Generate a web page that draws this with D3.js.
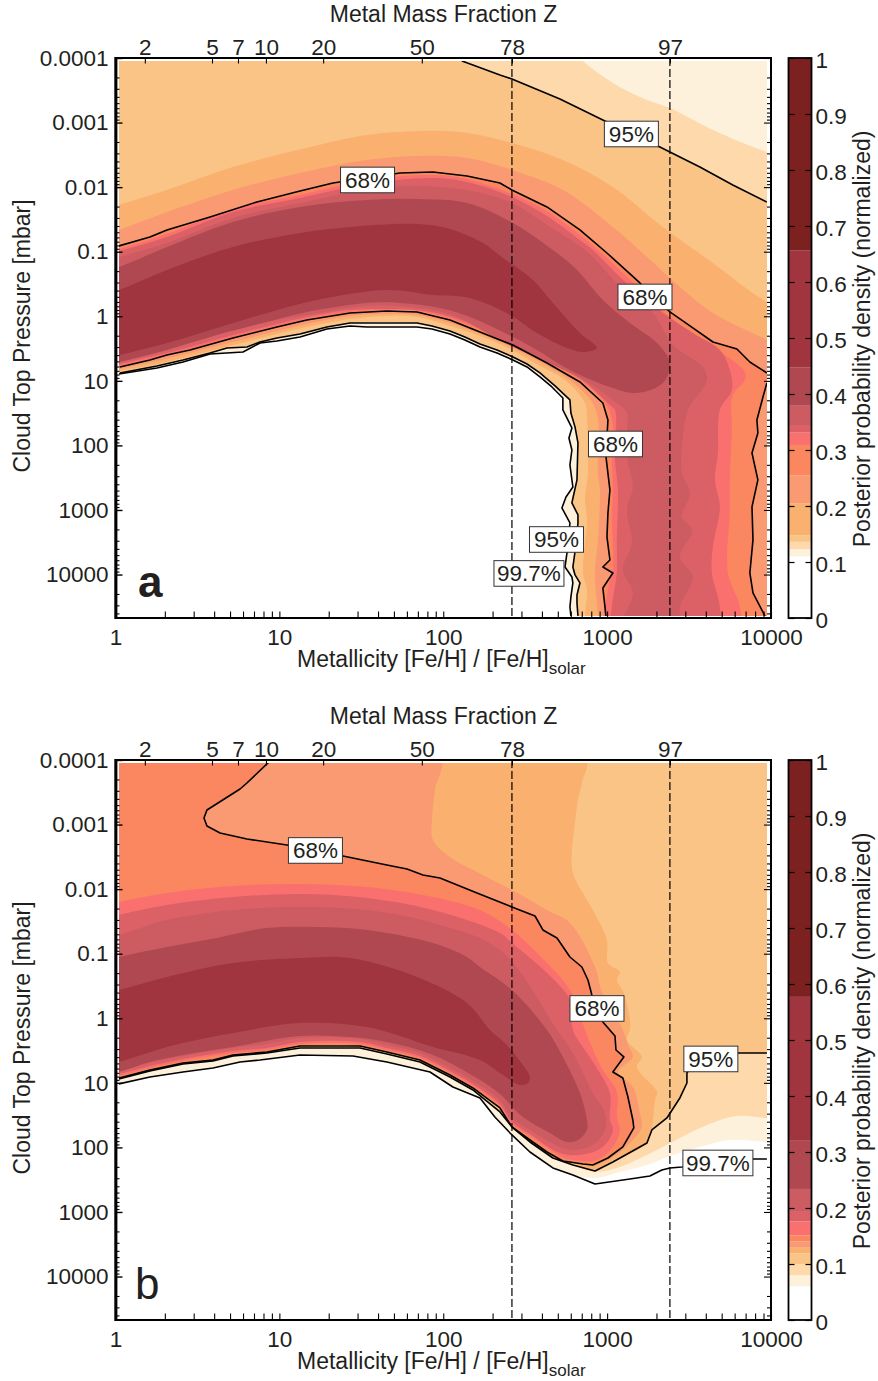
<!DOCTYPE html>
<html><head><meta charset="utf-8">
<script src="https://cdn.jsdelivr.net/npm/d3@7/dist/d3.min.js"></script>
<style>body{margin:0;background:#fff}svg{display:block}text{font-family:"Liberation Sans",Arial,sans-serif;fill:#231f20}</style>
</head><body><svg id="c" width="878" height="1381"></svg>
<script>
// All contour data are [log10 metallicity, log10 pressure in mbar]
const E_L=-0.2,E_R=4.2,E_T=-4.3,E_B=5;
const bandColors=["#ffffff","#fdf1db","#fdd9ac","#fbc487","#fab06e","#f99a72","#fa875f","#f9706e","#db6167","#cc5c62","#b04851","#a03540","#7d2020"];
const levelsA=[0,.11,.123,.136,.148,.205,.255,.309,.331,.343,.379,.447,.656,1];
const levelsB=[0,.06,.08,.1,.119,.129,.14,.151,.176,.193,.234,.32,.577,1];
const barTicks=[0,.1,.2,.3,.4,.5,.6,.7,.8,.9,1];
const metalFractionLabels=[2,5,7,10,20,50,78,97];
const metalFractionAt=[1.51,3.88,5.59,8.28,18.5,74,262.5,2416];
const dashedAt=[262.5,2416];
const xMajor=[1,10,100,1000,10000];
const yMajor=[1e-4,1e-3,1e-2,1e-1,1,10,100,1000,10000];
const yLabels=["0.0001","0.001","0.01","0.1","1","10","100","1000","10000"];

// ---- panel a contour lines
const a997=[[.021,.894],[.253,.801],[.412,.708],[.577,.584],[.778,.553],[.882,.414],[.985,.383],[1.126,.321],[1.29,.197],[1.431,.15],[1.534,.166],[1.84,.166],[1.931,.197],[2.041,.274],[2.132,.367],[2.224,.475],[2.328,.568],[2.425,.677],[2.511,.785],[2.59,.94],[2.663,1.095],[2.73,1.265],[2.73,1.451],[2.785,1.73],[2.767,1.885],[2.785,2.071],[2.773,2.303],[2.791,2.644],[2.749,2.799],[2.724,2.969],[2.773,3.201],[2.755,3.666],[2.743,3.883],[2.785,4.037],[2.791,4.13],[2.779,4.347],[2.773,4.502],[2.779,4.641]];
const a95Low=[[.027,.878],[.253,.77],[.412,.677],[.577,.568],[.68,.491],[.802,.475],[.882,.398],[.985,.336],[1.126,.274],[1.29,.166],[1.431,.104],[1.84,.104],[1.931,.15],[2.041,.228],[2.132,.321],[2.224,.429],[2.328,.522],[2.425,.63],[2.511,.739],[2.59,.878],[2.682,1.079],[2.773,1.296],[2.779,1.498],[2.804,1.714],[2.822,1.962],[2.816,2.535],[2.785,2.891],[2.822,3.077],[2.822,3.201],[2.81,3.542],[2.791,3.883],[2.804,4.006],[2.834,4.13],[2.816,4.316],[2.816,4.44],[2.822,4.641]];
const a95Up=[[2.114,-3.954],[2.346,-3.737],[2.419,-3.675],[2.712,-3.365],[2.974,-3.04],[3.322,-2.622],[3.383,-2.545],[3.566,-2.312],[3.767,-2.033],[3.975,-1.77]];
const a68Up=[[.021,-1.089],[.21,-1.228],[.314,-1.337],[.577,-1.538],[.863,-1.77],[1.126,-1.941],[1.327,-2.064],[1.736,-2.219],[1.937,-2.235],[2.145,-2.173],[2.346,-2.064],[2.419,-1.956],[2.633,-1.693],[2.834,-1.337],[2.999,-.98],[3.2,-.516],[3.383,-.067],[3.523,.181],[3.646,.398],[3.792,.506],[3.871,.708],[3.975,.878]];
const a68Right=[[3.975,1.033],[3.951,1.25],[3.914,1.606],[3.92,1.807],[3.884,2.117],[3.92,2.535],[3.884,2.953],[3.89,3.464],[3.871,3.976],[3.89,4.285],[3.963,4.641]];
const a68Low=[[.027,.785],[.21,.677],[.314,.599],[.455,.522],[.717,.336],[.985,.166],[1.168,.057],[1.431,-.051],[1.656,-.082],[1.84,-.067],[2.041,.057],[2.346,.367],[2.425,.444],[2.633,.723],[2.834,1.017],[2.974,1.343],[3.005,1.606],[2.999,1.869],[2.993,2.179],[3.017,2.69],[3.005,3.046],[2.999,3.418],[3.017,3.774],[2.974,3.883],[3.035,3.976],[2.974,4.208],[2.993,4.641]];
// ---- panel a band edges
const aLightEdge=[[2.804,-4.05],[3.035,-3.613],[3.243,-3.35],[3.383,-3.226],[3.646,-2.885],[3.975,-2.545]];
const aOrangeUp=[[.021,-1.724],[.314,-1.956],[.717,-2.312],[1.187,-2.622],[1.534,-2.808],[1.858,-2.87],[2.145,-2.839],[2.419,-2.684],[2.73,-2.421],[3.035,-2.002],[3.34,-1.383],[3.646,-.825],[3.975,-.221]];
const aOrangeLow=[[.027,.847],[.253,.739],[.455,.615],[.717,.444],[.985,.274],[1.168,.166],[1.431,.042],[1.656,-.005],[1.84,.011],[2.041,.15],[2.346,.429],[2.59,.77],[2.743,.987],[2.865,1.343],[2.877,1.56],[2.883,2.427],[2.865,2.845],[2.877,3.155],[2.853,3.976],[2.877,4.239],[2.865,4.641]];
const aSalmonUp=[[.021,-1.337],[.314,-1.615],[.717,-1.956],[1.126,-2.219],[1.534,-2.421],[1.84,-2.483],[2.145,-2.452],[2.419,-2.266],[2.73,-1.956],[3.035,-1.383],[3.243,-.918],[3.444,-.454],[3.646,-.051],[3.975,.367]];
const aSalmonLow=[[.027,.816],[.253,.692],[.455,.568],[.717,.398],[.985,.228],[1.168,.119],[1.431,-.005],[1.656,-.036],[1.84,-.02],[2.041,.104],[2.346,.398],[2.59,.708],[2.804,1.048],[2.932,1.451],[2.944,2.427],[2.956,2.69],[2.944,3.464],[2.926,3.976],[2.944,4.641]];
const aCoral=[[.021,-1.042],[.314,-1.275],[.717,-1.662],[1.126,-1.879],[1.534,-2.111],[1.937,-2.188],[2.145,-2.126],[2.419,-1.894],[2.633,-1.631],[2.834,-1.259],[2.944,-1.027],[3.096,-.671],[3.383,.011],[3.584,.367],[3.841,.863],[3.841,.987],[3.767,1.219],[3.761,1.761],[3.749,2.535],[3.749,3],[3.737,3.976],[3.81,4.502],[3.798,5],[3.005,5],[3.005,4.239],[3.035,3.929],[3.029,3.108],[3.035,2.69],[3.029,2.225],[3.035,1.683],[2.993,1.358],[2.846,1.002],[2.645,.708],[2.358,.352],[2.053,.042],[1.84,-.082],[1.656,-.098],[1.431,-.067],[1.168,.042],[.985,.15],[.717,.321],[.455,.506],[.21,.661],[.027,.77]];
const aRose=[[.021,-1.011],[.314,-1.228],[.717,-1.615],[1.126,-1.832],[1.534,-2.049],[1.937,-2.142],[2.145,-2.08],[2.419,-1.848],[2.633,-1.553],[2.834,-1.182],[2.913,-1.027],[3.078,-.609],[3.34,-.051],[3.523,.259],[3.688,.522],[3.749,.832],[3.761,1.141],[3.688,1.451],[3.676,2.117],[3.658,2.535],[3.688,2.953],[3.645,3.573],[3.639,3.976],[3.688,4.502],[3.676,5],[3.029,5],[3.029,4.502],[3.059,3.976],[3.059,3.464],[3.066,2.69],[3.048,2.225],[3.048,1.451],[3.017,1.374],[2.834,.956],[2.645,.677],[2.358,.321],[2.053,.011],[1.84,-.098],[1.656,-.113],[1.431,-.098],[1.168,.011],[.985,.119],[.717,.29],[.455,.475],[.21,.63],[.027,.739]];
const aMauve=[[.021,-.918],[.314,-1.135],[.717,-1.522],[1.126,-1.755],[1.534,-1.956],[1.84,-2.018],[2.145,-1.956],[2.419,-1.755],[2.633,-1.414],[2.865,-1.027],[3.06,-.516],[3.28,-.051],[3.402,.444],[3.584,.785],[3.609,.987],[3.493,1.451],[3.462,1.869],[3.456,2.427],[3.505,2.737],[3.456,3.108],[3.517,3.31],[3.444,3.728],[3.523,4.037],[3.444,4.502],[3.444,5],[3.06,5],[3.157,4.285],[3.096,3.929],[3.151,3.511],[3.121,3],[3.157,2.644],[3.121,2.179],[3.121,1.761],[3.121,1.498],[3.06,1.343],[2.877,1.017],[2.669,.754],[2.376,.414],[2.053,-.02],[1.84,-.129],[1.534,-.16],[1.168,-.02],[.924,.088],[.619,.274],[.314,.46],[.027,.692]];
const aBrick=[[.021,-.764],[.314,-1.073],[.717,-1.46],[1.126,-1.693],[1.534,-1.801],[1.84,-1.817],[2.145,-1.755],[2.425,-1.445],[2.669,-1.027],[2.816,-.717],[2.974,-.252],[3.139,.104],[3.304,.414],[3.383,.723],[3.34,1.033],[3.182,1.188],[3.017,1.095],[2.773,.832],[2.572,.522],[2.425,.321],[2.163,.011],[1.98,-.129],[1.736,-.206],[1.534,-.206],[1.168,-.067],[.924,.088],[.619,.29],[.314,.522],[.027,.708]];
const aWine=[[.021,-.407],[.314,-.717],[.717,-1.073],[1.126,-1.29],[1.431,-1.383],[1.84,-1.429],[2.041,-1.352],[2.242,-1.135],[2.364,-.903],[2.547,-.562],[2.669,-.206],[2.834,.259],[2.938,.491],[2.853,.553],[2.755,.491],[2.572,.259],[2.407,-.02],[2.163,-.283],[1.937,-.33],[1.656,-.407],[1.229,-.252],[.924,-.051],[.619,.181],[.314,.414],[.027,.599]];
// ---- panel b contour lines
const b68Up=[[.943,-3.985],[.802,-3.644],[.76,-3.551],[.558,-3.226],[.54,-3.102],[.558,-2.978],[.638,-2.87],[.802,-2.777],[1.046,-2.684],[1.388,-2.514],[1.656,-2.374],[1.779,-2.312],[1.876,-2.219],[1.98,-2.173],[2.206,-1.941],[2.419,-1.724],[2.56,-1.584],[2.608,-1.368],[2.694,-1.244],[2.773,-.949],[2.846,-.794],[2.883,-.593],[2.907,-.361],[2.974,.057],[3.048,.274],[3.054,.491],[3.102,.599],[3.035,.832],[3.096,.925],[3.127,1.219],[3.157,1.575],[3.163,1.699],[3.096,1.993],[3.005,2.164],[2.913,2.272]];
const b68Low=[[2.853,2.256],[2.73,2.21],[2.633,2.071],[2.529,1.885],[2.419,1.683],[2.346,1.389],[2.181,1.079],[2.041,.878],[1.858,.646],[1.656,.522],[1.492,.429],[1.126,.429],[.924,.522],[.717,.568],[.595,.646],[.412,.692],[.21,.801],[.021,.925]];
const b95Left=[[.021,.94],[.21,.816],[.412,.708],[.595,.661],[.717,.584],[.924,.537],[1.126,.46],[1.492,.46],[1.656,.553],[1.858,.677],[2.041,.909],[2.181,1.11],[2.346,1.451],[2.425,1.699],[2.529,1.916],[2.669,2.164],[2.791,2.272]];
const b95Right=[[2.926,2.365],[3.035,2.225],[3.243,1.931],[3.273,1.73],[3.365,1.544],[3.444,1.234],[3.487,1.002],[3.487,.847],[3.536,.646],[3.597,.537],[3.798,.537],[3.975,.537]];
const b997Left=[[.021,1.017],[.21,.909],[.412,.832],[.595,.77],[.76,.677],[.882,.646],[1.126,.568],[1.449,.584],[1.656,.677],[1.919,.832],[2.059,1.064],[2.224,1.234],[2.315,1.529],[2.419,1.807],[2.529,2.071],[2.669,2.318],[2.791,2.427]];
const b997Right=[[2.926,2.566],[3.139,2.489],[3.261,2.442],[3.334,2.349],[3.383,2.318],[3.456,2.303],[3.89,2.179],[3.975,2.179]];
// ---- panel b band edges
const bCreamEdge=[[2.926,2.473],[3.078,2.38],[3.243,2.272],[3.383,2.133],[3.609,1.962],[3.749,1.885],[3.975,1.916]];
const bLightEdge=[[2.926,2.38],[3.078,2.303],[3.243,2.117],[3.444,1.854],[3.609,1.652],[3.792,1.513],[3.975,1.544]];
const bOrangeEdge=[[2.865,-4.078],[2.846,-3.644],[2.822,-3.381],[2.804,-3.025],[2.785,-2.606],[2.791,-2.25],[2.852,-1.941],[2.913,-1.677],[2.999,-1.213],[3.005,-.856],[3.078,-.717],[3.06,-.593],[3.102,-.392],[3.139,.026],[3.139,.181],[3.121,.336],[3.212,.599],[3.182,.754],[3.304,1.141],[3.292,1.265],[3.273,1.683],[3.243,1.9],[3.035,2.195],[2.926,2.334],[2.791,2.241],[2.669,2.133],[2.529,1.885],[2.425,1.683]];
const bSalmonEdge=[[1.98,-4.078],[1.949,-3.536],[1.931,-3.071],[1.937,-2.761],[2.041,-2.498],[2.181,-2.297],[2.419,-1.987],[2.633,-1.677],[2.773,-1.476],[2.926,-.794],[2.968,-.407],[3.096,.181],[3.127,.414],[3.157,.599],[3.066,.832],[3.157,1.064],[3.2,1.467],[3.212,1.683],[3.139,1.931],[3.035,2.148],[2.913,2.287]];
const bCoral=[[.021,-1.801],[.314,-1.941],[.717,-2.049],[1.126,-2.08],[1.534,-2.033],[1.937,-1.879],[2.224,-1.677],[2.419,-1.368],[2.633,-.856],[2.773,-.438],[2.865,.181],[2.907,.444],[2.974,.801],[3.06,1.141],[3.06,1.529],[3.078,1.73],[3.035,1.993],[2.938,2.195],[2.791,2.195],[2.724,2.148],[2.529,1.823],[2.419,1.637],[2.346,1.358],[2.181,1.048],[2.041,.847],[1.858,.615],[1.656,.491],[1.492,.398],[1.126,.398],[.924,.491],[.717,.537],[.412,.661],[.21,.77],[.021,.894]];
const bRose=[[.021,-1.6],[.314,-1.755],[.717,-1.879],[1.126,-1.925],[1.534,-1.863],[1.937,-1.677],[2.346,-1.321],[2.419,-1.166],[2.633,-.702],[2.773,-.283],[2.791,.181],[2.877,.537],[2.956,.847],[3.017,1.157],[3.017,1.575],[3.035,1.73],[2.974,1.993],[2.834,2.117],[2.712,2.086],[2.529,1.792],[2.419,1.606],[2.346,1.327],[2.181,1.017],[2.041,.816],[1.858,.584],[1.656,.46],[1.492,.367],[1.126,.367],[.924,.46],[.717,.506],[.412,.63],[.21,.739],[.021,.863]];
const bMauve=[[.021,-1.29],[.314,-1.522],[.717,-1.677],[1.126,-1.724],[1.534,-1.677],[1.937,-1.476],[2.346,-1.058],[2.694,.181],[2.791,.537],[2.913,1.157],[2.987,1.467],[2.987,1.73],[2.913,1.962],[2.791,2.04],[2.712,1.993],[2.529,1.73],[2.419,1.544],[2.346,1.265],[2.181,.971],[2.041,.77],[1.858,.537],[1.656,.414],[1.492,.321],[1.126,.305],[.924,.398],[.717,.46],[.412,.584],[.21,.692],[.021,.816]];
const bBrick=[[.021,-.949],[.314,-1.104],[.619,-1.244],[.924,-1.398],[1.229,-1.414],[1.534,-1.368],[1.937,-1.166],[2.145,-.949],[2.224,-.794],[2.419,-.438],[2.633,.181],[2.73,.599],[2.834,1.157],[2.877,1.575],[2.877,1.73],[2.822,1.885],[2.755,1.916],[2.651,1.776],[2.486,1.529],[2.346,1.172],[2.224,.956],[1.937,.568],[1.656,.367],[1.431,.29],[1.126,.274],[.717,.444],[.412,.568],[.21,.677],[.021,.832]];
const bWine=[[.021,-.438],[.314,-.64],[.717,-.856],[1.126,-.934],[1.431,-.934],[1.84,-.64],[2.145,-.237],[2.285,.181],[2.376,.383],[2.449,.599],[2.529,.909],[2.517,1.002],[2.468,1.033],[2.346,.847],[2.224,.646],[1.937,.444],[1.534,.135],[1.126,.073],[.717,.228],[.314,.444],[.021,.677]];
// ---- contour labels [text, log10 metallicity, log10 pressure]
const labelsA=[["68%",1.538,-2.111],["95%",3.148,-2.823],["68%",3.231,-.299],["68%",3.051,1.978],["95%",2.691,3.457],["99.7%",2.523,3.983]];
const labelsB=[["68%",1.22,-2.599],["68%",2.938,-.152],["95%",3.633,.63],["99.7%",3.676,2.241]];

const rev=a=>a.slice().reverse();
const layersA=[
 [[E_L,E_T],[E_R,E_T],[E_R,E_B],[2.779,E_B],...rev(a997),[E_L,.894]],
 [[2.7,E_T],...aLightEdge,[E_R,-2.4],[E_R,E_B],[2.822,E_B],...rev(a95Low),[E_L,.878],[E_L,E_T]],
 [[E_L,E_T],[2.0,E_T],...a95Up,[E_R,-1.6],[E_R,E_B],[2.822,E_B],...rev(a95Low),[E_L,.878]],
 [[E_L,-1.55],...aOrangeUp,[E_R,0],[E_R,E_B],[2.865,E_B],...rev(aOrangeLow),[E_L,.98]],
 [[E_L,-1.15],...aSalmonUp,[E_R,.65],[E_R,E_B],[2.944,E_B],...rev(aSalmonLow),[E_L,.95]],
 [[E_L,-.95],...a68Up,...a68Right,[3.963,E_B],[2.993,E_B],...rev(a68Low),[E_L,.92]],
 [[E_L,-.9],...aCoral,[E_L,.9]],
 [[E_L,-.87],...aRose,[E_L,.87]],
 [[E_L,-.77],...aMauve,[E_L,.82]],
 [[E_L,-.6],...aBrick,[E_L,.84]],
 [[E_L,-.22],...aWine,[E_L,.73]]
];
const layersB=[
 [[E_L,E_T],[E_R,E_T],[E_R,1.916],...rev(bCreamEdge),...rev(b997Left),[E_L,1.15]],
 [[E_L,E_T],[E_R,E_T],[E_R,1.544],...rev(bLightEdge),...rev(b95Left),[E_L,1.07]],
 [[E_L,E_T],[E_R,E_T],[E_R,.537],...rev(b95Right),...rev(b95Left),[E_L,1.07]],
 [[E_L,E_T],...bOrangeEdge,...b68Low.slice(5),[E_L,1.05]],
 [[E_L,E_T],...bSalmonEdge,...b68Low,[E_L,1.05]],
 [[E_L,E_T],[1.15,E_T],...b68Up,...b68Low,[E_L,1.05]],
 [[E_L,-1.65],...bCoral,[E_L,1.02]],
 [[E_L,-1.45],...bRose,[E_L,.99]],
 [[E_L,-1.15],...bMauve,[E_L,.94]],
 [[E_L,-.8],...bBrick,[E_L,.96]],
 [[E_L,-.3],...bWine,[E_L,.81]]
];

const svg=d3.select("#c");
const FS=23,TS=22.5;
const x=d3.scaleLog().domain([1,10000]).range([115.5,771]);
const y=d3.scaleLog().domain([1e-4,4.71e4]).range([58,618]);
const yBar=d3.scaleLinear().domain([0,1]).range([618,58]);
const px=p=>[x(Math.pow(10,p[0])),y(Math.pow(10,p[1]))];
const area=d3.line().curve(d3.curveCatmullRomClosed.alpha(.5));
const poly=d3.line();

function tickStyle(g,w){g.select(".domain").remove();g.selectAll("line").attr("stroke","#000").attr("stroke-width",w);g.selectAll("text").attr("font-size",TS).attr("fill","#231f20");}

function panel(id,dy,layers,lines,levels,labels,letter,bold){
 const g=svg.append("g").attr("transform",`translate(0,${dy})`);
 g.append("clipPath").attr("id",id).append("rect").attr("x",119).attr("y",61).attr("width",648).attr("height",555);
 const plot=g.append("g").attr("clip-path",`url(#${id})`);
 plot.selectAll("path.band").data(layers).join("path").attr("class","band")
  .attr("d",d=>area(d.map(px))).attr("fill",(d,i)=>bandColors[i+1]);
 plot.selectAll("path.line").data(lines).join("path").attr("class","line")
  .attr("d",d=>poly(d.map(px))).attr("fill","none").attr("stroke","#000").attr("stroke-width",1.6).attr("stroke-linejoin","round");
 // dashed reference lines
 g.selectAll("line.dash").data(dashedAt).join("line").attr("class","dash")
  .attr("x1",d=>x(d)).attr("x2",d=>x(d)).attr("y1",58).attr("y2",618)
  .attr("stroke","#000").attr("stroke-width",1.2).attr("stroke-dasharray","8 3");
 // contour labels
 const lab=g.selectAll("g.lab").data(labels).join("g").attr("class","lab")
  .attr("transform",d=>{const p=px([d[1],d[2]]);return `translate(${p[0]},${p[1]})`;});
 lab.append("rect").attr("x",d=>d[0].length>3?-35:-27).attr("width",d=>d[0].length>3?70:54).attr("y",-12.8).attr("height",25.6)
  .attr("fill","#fff").attr("stroke","#333").attr("stroke-width",1);
 lab.append("text").attr("text-anchor","middle").attr("y",8).attr("font-size",TS).text(d=>d[0]);
 // axes
 const allX=x.ticks(),allY=y.ticks();
 g.append("g").attr("transform","translate(0,618)")
  .call(d3.axisBottom(x).tickValues(allX).tickSizeInner(-6.5).tickSizeOuter(0).tickPadding(11)
   .tickFormat(d=>xMajor.includes(d)?String(d):"")).call(s=>tickStyle(s,1.1));
 g.append("g").attr("transform","translate(115.5,0)")
  .call(d3.axisLeft(y).tickValues(allY.filter(d=>!yMajor.some(m=>Math.abs(m/d-1)<1e-6))).tickSizeInner(-4).tickSizeOuter(0).tickFormat(""))
  .call(s=>tickStyle(s,1.1));
 g.append("g").attr("transform","translate(115.5,0)")
  .call(d3.axisLeft(y).tickValues(yMajor).tickSizeInner(-7).tickSizeOuter(0).tickPadding(7).tickFormat((d,i)=>yLabels[i]))
  .call(s=>tickStyle(s,1.4));
 g.append("g").attr("transform","translate(771,0)")
  .call(d3.axisRight(y).tickValues(allY.filter(d=>!yMajor.some(m=>Math.abs(m/d-1)<1e-6))).tickSizeInner(-4).tickSizeOuter(0).tickFormat(""))
  .call(s=>tickStyle(s,1.1));
 g.append("g").attr("transform","translate(771,0)")
  .call(d3.axisRight(y).tickValues(yMajor).tickSizeInner(-7).tickSizeOuter(0).tickFormat(""))
  .call(s=>tickStyle(s,1.1));
 g.append("g").attr("transform","translate(0,58)")
  .call(d3.axisTop(x).tickValues(metalFractionAt).tickSizeInner(-5.5).tickSizeOuter(0).tickPadding(3.5)
   .tickFormat((d,i)=>metalFractionLabels[i])).call(s=>tickStyle(s,1.1));
 // frame
 g.append("rect").attr("x",115.5).attr("y",58).attr("width",655.5).attr("height",560).attr("fill","none").attr("stroke","#000").attr("stroke-width",2);
 g.append("line").attr("x1",116).attr("x2",116).attr("y1",57).attr("y2",619).attr("stroke","#000").attr("stroke-width",2.8);
 // titles
 g.append("text").attr("x",443.5).attr("y",21.5).attr("text-anchor","middle").attr("font-size",FS).text("Metal Mass Fraction Z");
 const t=g.append("text").attr("x",297).attr("y",667).attr("font-size",FS);
 t.append("tspan").text("Metallicity [Fe/H] / [Fe/H]");
 t.append("tspan").attr("dy",7).attr("font-size",17).text("solar");
 g.append("text").attr("transform","translate(30,336) rotate(-90)").attr("text-anchor","middle").attr("font-size",FS).text("Cloud Top Pressure [mbar]");
 g.append("text").attr("x",bold?138:135).attr("y",597).attr("font-size",44).attr("font-weight",bold?"bold":"normal").text(letter);
 // colour bar
 const bands=d3.pairs(levels).map((p,i)=>({lo:p[0],hi:p[1],c:bandColors[i]}));
 g.selectAll("rect.bar").data(bands).join("rect").attr("class","bar")
  .attr("x",789).attr("width",22).attr("y",d=>yBar(d.hi)).attr("height",d=>yBar(d.lo)-yBar(d.hi)).attr("fill",d=>d.c);
 g.append("g").attr("transform","translate(811.5,0)")
  .call(d3.axisRight(yBar).tickValues(barTicks).tickSizeInner(-6).tickSizeOuter(0).tickPadding(4).tickFormat(d=>String(d)))
  .call(s=>tickStyle(s,1.2)).call(s=>s.selectAll("text").attr("dy","0.4em"));
 g.append("g").attr("transform","translate(788.5,0)")
  .call(d3.axisLeft(yBar).tickValues(barTicks).tickSizeInner(-6).tickSizeOuter(0).tickFormat(""))
  .call(s=>tickStyle(s,1.2));
 g.append("rect").attr("x",788.5).attr("y",58).attr("width",23).attr("height",560).attr("fill","none").attr("stroke","#000").attr("stroke-width",1.8);
 g.append("text").attr("transform","translate(870,339) rotate(-90)").attr("text-anchor","middle").attr("font-size",FS).text("Posterior probability density (normalized)");
}

panel("clipA",0,layersA,[a997,a95Low,a95Up,a68Up,a68Right,a68Low],levelsA,labelsA,"a",true);
panel("clipB",702,layersB,[[...b68Up,...b68Low],[...b95Left,...b95Right],[...b997Left,...b997Right]],levelsB,labelsB,"b",false);
</script></body></html>
